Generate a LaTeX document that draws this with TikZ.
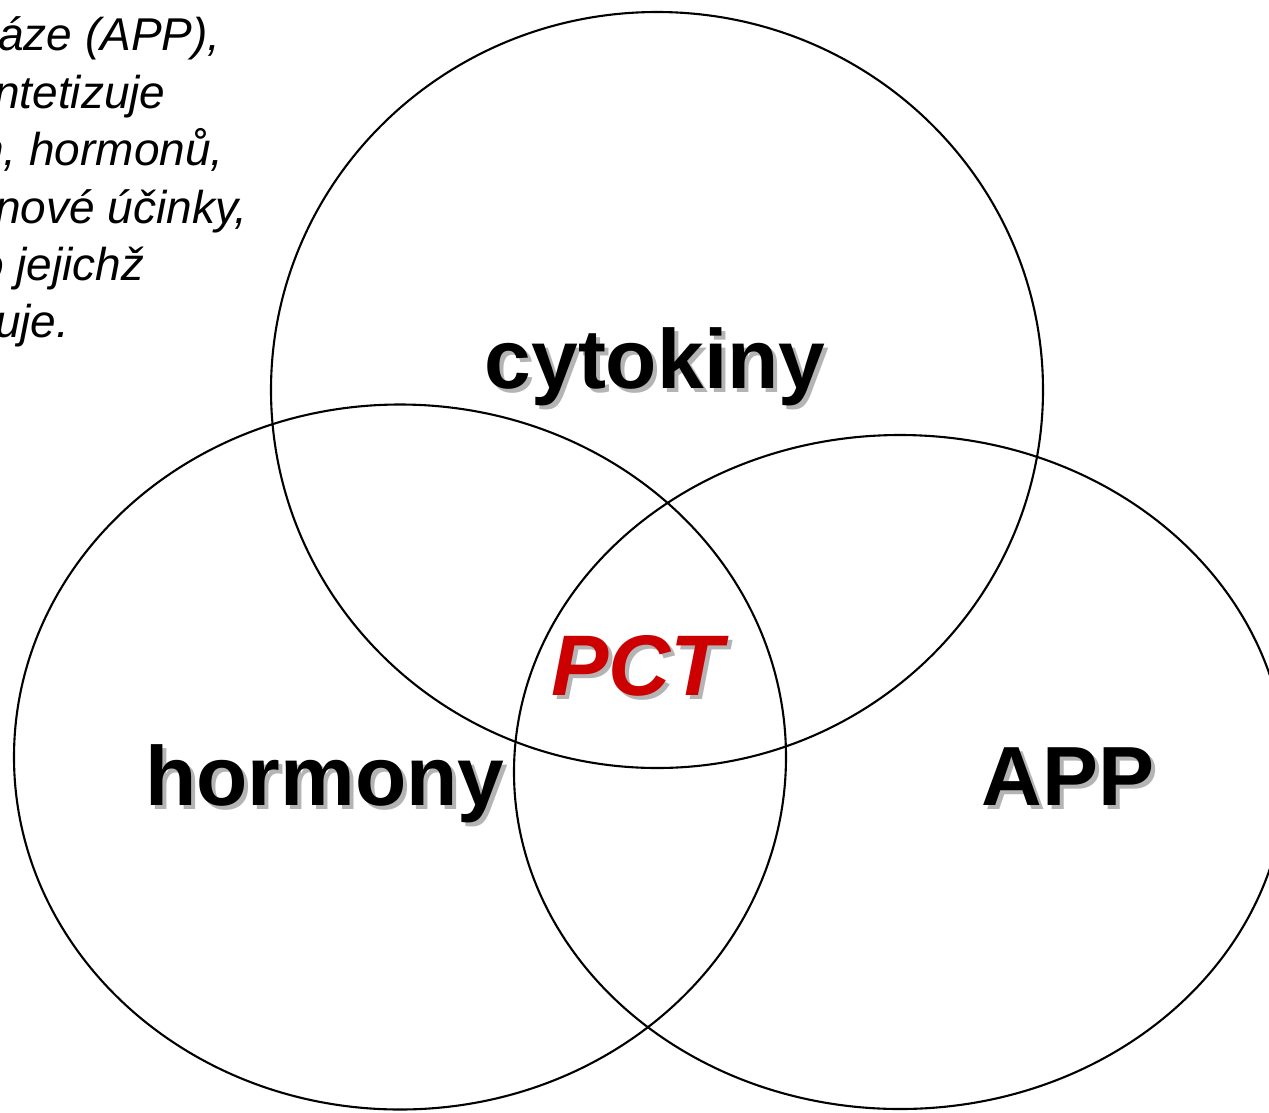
\documentclass[tikz,border=0pt]{standalone}
\usepackage{fontspec}
\setmainfont{Liberation Sans}
\usetikzlibrary{shapes.geometric}
\definecolor{pctred}{HTML}{CC0000}
\definecolor{shadowgray}{HTML}{B4B4B4}
\tikzset{
  venn/.style={draw=black, line width=2.1pt, ellipse, inner sep=0pt},
  big/.style={font=\fontsize{84}{100}\selectfont\bfseries, anchor=base, inner sep=0pt},
  bigshadow/.style={big, text=shadowgray},
  note/.style={font=\fontsize{46}{55}\selectfont\itshape, anchor=base west, inner sep=0pt},
}
\begin{document}
\begin{tikzpicture}[x=1pt,y=-1pt]
\useasboundingbox (0,0) rectangle (1269,1112);
\clip (0,0) rectangle (1269,1112);
\fill[white] (0,0) rectangle (1269,1112);
% text fragments
\node[note] (l1) at (-2,50) {áze (APP),};
\node[note] (l2) at (-6,108) {ntetizuje};
\node[note] (l3) at (-22,165) {n, hormonů,};
\node[note] (l4) at (-5,223) {nové účinky,};
\node[note] (l5) at (-22,280) {o jejichž};
\node[note] (l6) at (-5,337) {uje.};
% circles
\node[venn, minimum width=772pt, minimum height=756pt] (cyt) at (657,390) {};
\node[venn, minimum width=772pt, minimum height=705pt] (hor) at (400,757) {};
\node[venn, minimum width=772pt, minimum height=674pt] (app) at (900,772) {};
% labels
\node[bigshadow] (cyts) at (659,392) {cytokiny};
\node[big] (cytl) at (655,388) {cytokiny};
\node[bigshadow] (hors) at (329,809) {hormony};
\node[big] (horl) at (325,805) {hormony};
\node[bigshadow] (apps) at (1072,809) {APP};
\node[big] (appl) at (1068,805) {APP};
\node[bigshadow, font=\fontsize{86}{100}\selectfont\bfseries\itshape] (pcts) at (641,699) {PCT};
\node[big, text=pctred, font=\fontsize{86}{100}\selectfont\bfseries\itshape] (pctl) at (637,695) {PCT};
\end{tikzpicture}
\end{document}
